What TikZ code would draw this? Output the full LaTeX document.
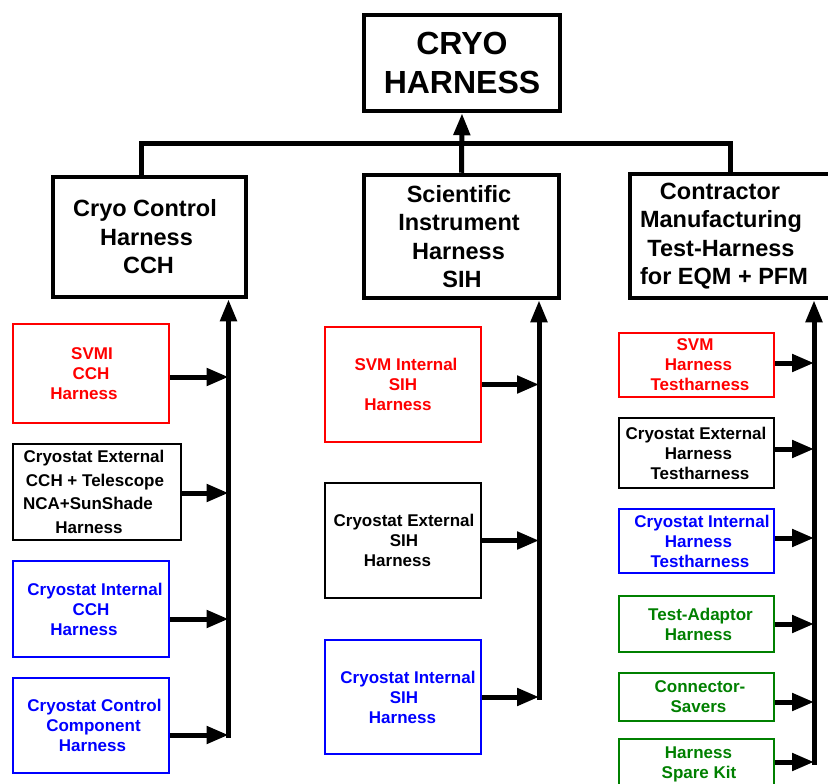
\documentclass[tikz,border=0pt]{standalone}
\usepackage{fontspec}
\setmainfont{Liberation Sans}
\usetikzlibrary{arrows.meta}
\definecolor{cred}{RGB}{255,0,0}
\definecolor{cblue}{RGB}{0,0,255}
\definecolor{cgreen}{RGB}{0,128,0}
\newcommand\lsh[2]{\makebox[0pt]{\kern#1pt#2\kern-#1pt}}
\tikzset{
  box0/.style={draw, line width=4.5pt, inner sep=0pt, align=center, font=\fontsize{32}{39}\selectfont\bfseries},
  box1/.style={draw, line width=4.5pt, inner sep=0pt, align=center, font=\fontsize{23.5}{28.5}\selectfont\bfseries},
  box2/.style={draw, line width=2pt, inner sep=0pt, align=center, font=\fontsize{17}{20}\selectfont\bfseries},
  conn/.style={line width=5pt},
  feed/.style={line width=5pt, -{Triangle[length=22pt,width=17pt]}},
  uparrow/.style={line width=5pt, -{Triangle[length=22pt,width=16pt]}},
}
\begin{document}
\begin{tikzpicture}[x=1pt,y=-1pt]
\useasboundingbox (0,0) rectangle (828,784);
\fill[white] (0,0) rectangle (828,784);
% level 0
\node[box0, minimum width=196pt, minimum height=96pt] (top) at (462,63) {CRYO\\HARNESS};
% level 1
\node[box1, minimum width=193pt, minimum height=120pt] (cch) at (149.5,237)
  {\lsh{-4.5}{Cryo Control}\\\lsh{-3}{Harness}\\\lsh{-1}{CCH}};
\node[box1, minimum width=195pt, minimum height=123pt] (sih) at (461.5,236.5)
  {\lsh{-2.5}{Scientific}\\\lsh{-2.5}{Instrument}\\\lsh{-3}{Harness}\\\lsh{0.5}{SIH}};
\node[box1, minimum width=218pt, minimum height=124pt] (con) at (739,236)
  {\lsh{-19}{Contractor}\\\lsh{-18}{Manufacturing}\\\lsh{-18}{Test-Harness}\\\lsh{-15}{for EQM + PFM}};
% connectors top
\coordinate (bar) at (462,143);
\draw[conn] ([xshift=-8.5pt]cch.north) |- (bar) -| ([xshift=-9pt]con.north);
\draw[uparrow] (sih.north) -- (top.south);
% left column
\node[box2, cred, minimum width=156pt, minimum height=99pt] (svmi) at (91,373.5)
  {\lsh{1}{SVMI}\\\lsh{0}{CCH}\\\lsh{-7}{Harness}};
\node[box2, minimum width=168pt, minimum height=96pt, font=\fontsize{17}{23.7}\selectfont\bfseries] (cext) at (97,492)
  {\lsh{-3}{Cryostat External}\\\lsh{-2}{CCH + Telescope}\\\lsh{-9}{NCA+SunShade}\\\lsh{-8}{Harness}};
\node[box2, cblue, minimum width=156pt, minimum height=96pt] (cint) at (91,609)
  {\lsh{4}{Cryostat Internal}\\\lsh{0}{CCH}\\\lsh{-7}{Harness}};
\node[box2, cblue, minimum width=156pt, minimum height=95pt] (cctl) at (91,725.5)
  {\lsh{3.5}{Cryostat Control}\\\lsh{2.5}{Component}\\\lsh{1.5}{Harness}};
\coordinate (lv) at (228.5,737.5);
\draw[uparrow] (lv) -- (lv |- cch.south);
\draw[feed] ([yshift=-3.5pt]svmi.east) -- ([yshift=-3.5pt]svmi.east -| lv);
\draw[feed] ([yshift=-1pt]cext.east) -- ([yshift=-1pt]cext.east -| lv);
\draw[feed] ([yshift=-10pt]cint.east) -- ([yshift=-10pt]cint.east -| lv);
\draw[feed] ([yshift=-9.5pt]cctl.east) -- ([yshift=-9.5pt]cctl.east -| lv);
% middle column
\node[box2, cred, minimum width=156pt, minimum height=115pt] (sint) at (403,384.5)
  {\lsh{3}{SVM Internal}\\\lsh{0}{SIH}\\\lsh{-5}{Harness}};
\node[box2, minimum width=156pt, minimum height=115pt] (sext) at (403,540.5)
  {\lsh{1}{Cryostat External}\\\lsh{1}{SIH}\\\lsh{-5.5}{Harness}};
\node[box2, cblue, minimum width=156pt, minimum height=114pt] (sci) at (403,697)
  {\lsh{5}{Cryostat Internal}\\\lsh{1}{SIH}\\\lsh{-0.5}{Harness}};
\coordinate (mv) at (539,699.5);
\draw[uparrow] (mv) -- (mv |- sih.south);
\draw[feed] (sint.east) -- (sint.east -| mv);
\draw[feed] (sext.east) -- (sext.east -| mv);
\draw[feed] (sci.east) -- (sci.east -| mv);
% right column
\node[box2, cred, minimum width=155pt, minimum height=64pt] (r1) at (696.5,365)
  {\lsh{-1.5}{SVM}\\\lsh{2}{Harness}\\\lsh{3.5}{Testharness}};
\node[box2, minimum width=155pt, minimum height=70pt] (r2) at (696.5,453)
  {\lsh{-0.5}{Cryostat External}\\\lsh{2}{Harness}\\\lsh{3.5}{Testharness}};
\node[box2, cblue, minimum width=155pt, minimum height=64pt] (r3) at (696.5,541)
  {\lsh{5.5}{Cryostat Internal}\\\lsh{2}{Harness}\\\lsh{3.5}{Testharness}};
\node[box2, cgreen, minimum width=155pt, minimum height=56pt] (r4) at (696.5,624)
  {\lsh{4}{Test-Adaptor}\\\lsh{2}{Harness}};
\node[box2, cgreen, minimum width=155pt, minimum height=48pt] (r5) at (696.5,697)
  {\lsh{3.5}{Connector-}\\\lsh{2}{Savers}};
\node[box2, cgreen, minimum width=155pt, minimum height=50pt] (r6) at (696.5,764)
  {\lsh{2}{Harness}\\\lsh{2.5}{Spare Kit}};
\coordinate (rv) at (814,764.5);
\draw[uparrow] (rv) -- (rv |- con.south);
\draw[feed] ([yshift=2pt]r1.east) -- ([yshift=2pt]r1.east -| rv);
\draw[feed] ([yshift=4pt]r2.east) -- ([yshift=4pt]r2.east -| rv);
\draw[feed] ([yshift=3pt]r3.east) -- ([yshift=3pt]r3.east -| rv);
\draw[feed] (r4.east) -- (r4.east -| rv);
\draw[feed] ([yshift=-5pt]r5.east) -- ([yshift=-5pt]r5.east -| rv);
\draw[feed] ([yshift=2pt]r6.east) -- ([yshift=2pt]r6.east -| rv);
\end{tikzpicture}
\end{document}
